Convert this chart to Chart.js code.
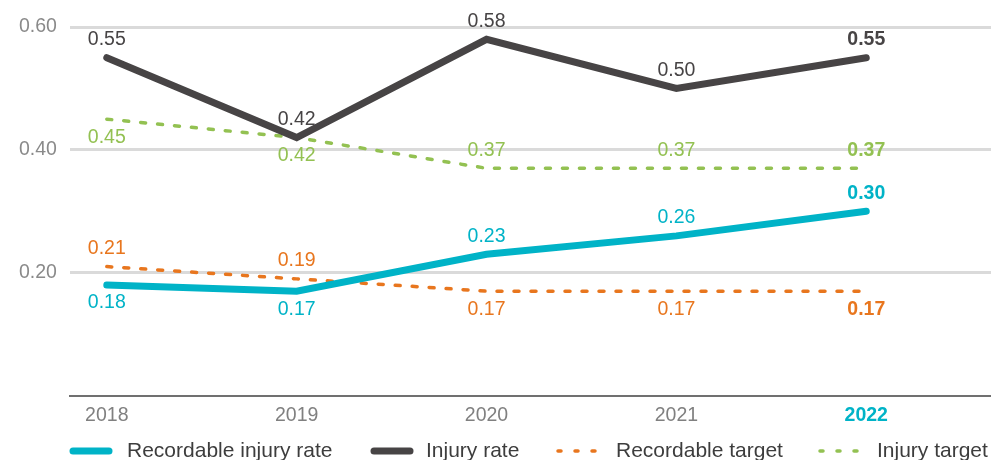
<!DOCTYPE html>
<html lang="en">
<head>
    <meta charset="UTF-8">
    <title>Injury rates</title>
    <script src="https://cdn.jsdelivr.net/npm/chart.js"></script>
    <style>
        body {
            margin: 0;
            padding: 0;
            background-color: #ffffff;
        }

        .chart-box {
            position: relative;
            width: 991px;
            height: 460px;
        }
    </style>
</head>
<body>
    <div class="chart-box">
        <canvas id="injuryChart"></canvas>
    </div>

    <script>
        // Chart data
        const years = ['2018', '2019', '2020', '2021', '2022'];
        const recordableRate = [0.18, 0.17, 0.23, 0.26, 0.30];
        const injuryRate = [0.55, 0.42, 0.58, 0.50, 0.55];
        const recordableTarget = [0.21, 0.19, 0.17, 0.17, 0.17];
        const injuryTarget = [0.45, 0.42, 0.37, 0.37, 0.37];
        const yTicks = [0, 0.2, 0.4, 0.6];

        const CYAN = '#00b3c7';
        const DARK = '#474445';
        const ORANGE = '#e8761e';
        const GREEN = '#93c152';
        const FONT = "'Liberation Sans', Arial, sans-serif";

        function toPoints(values) {
            return values.map((v, i) => ({ x: i, y: v }));
        }

        // draws the value next to each point, last year in bold
        const valueLabels = {
            id: 'valueLabels',
            afterDatasetsDraw(chart) {
                const ctx = chart.ctx;
                chart.data.datasets.forEach((ds, di) => {
                    const meta = chart.getDatasetMeta(di);
                    meta.data.forEach((pt, i) => {
                        const last = i === meta.data.length - 1;
                        const below = ds.labelBelow[i];
                        ctx.save();
                        ctx.font = (last ? 'bold ' : '') + '19.5px ' + FONT;
                        ctx.fillStyle = ds.labelColor;
                        ctx.textAlign = 'center';
                        ctx.textBaseline = 'middle';
                        ctx.fillText(ds.data[i].y.toFixed(2), pt.x, pt.y + (below ? 18 : -18));
                        ctx.restore();
                    });
                });
            }
        };

        // legend along the bottom edge, line sample + label
        const bottomLegend = {
            id: 'bottomLegend',
            afterDraw(chart, args, opts) {
                const ctx = chart.ctx;
                const y = opts.y;
                chart.data.datasets.forEach((ds, i) => {
                    const x = opts.starts[i];
                    ctx.save();
                    ctx.strokeStyle = ds.borderColor;
                    ctx.lineWidth = ds.borderWidth;
                    ctx.lineCap = 'round';
                    ctx.setLineDash(ds.borderDash ? [3, 14] : []);
                    ctx.beginPath();
                    if (ds.borderDash) {
                        ctx.moveTo(x + 2, y);
                        ctx.lineTo(x + 40, y);
                    } else {
                        ctx.moveTo(x + 3, y);
                        ctx.lineTo(x + 39, y);
                    }
                    ctx.stroke();
                    ctx.setLineDash([]);
                    ctx.font = '21px ' + FONT;
                    ctx.fillStyle = '#3d3d3d';
                    ctx.textBaseline = 'middle';
                    ctx.fillText(ds.label, opts.textStarts[i], y);
                    ctx.restore();
                });
            }
        };

        const ctx = document.getElementById('injuryChart').getContext('2d');
        const injuryChart = new Chart(ctx, {
            type: 'line',
            data: {
                datasets: [{
                    label: 'Recordable injury rate',
                    data: toPoints(recordableRate),
                    borderColor: CYAN,
                    borderWidth: 7,
                    borderCapStyle: 'round',
                    labelColor: CYAN,
                    labelBelow: [true, true, false, false, false]
                }, {
                    label: 'Injury rate',
                    data: toPoints(injuryRate),
                    borderColor: DARK,
                    borderWidth: 7,
                    borderCapStyle: 'round',
                    labelColor: DARK,
                    labelBelow: [false, false, false, false, false]
                }, {
                    label: 'Recordable target',
                    data: toPoints(recordableTarget),
                    borderColor: ORANGE,
                    borderWidth: 3.5,
                    borderDash: [5, 12],
                    borderCapStyle: 'round',
                    labelColor: ORANGE,
                    labelBelow: [false, false, true, true, true]
                }, {
                    label: 'Injury target',
                    data: toPoints(injuryTarget),
                    borderColor: GREEN,
                    borderWidth: 3.5,
                    borderDash: [5, 12],
                    borderCapStyle: 'round',
                    labelColor: GREEN,
                    labelBelow: [true, true, false, false, false]
                }]
            },
            options: {
                responsive: true,
                maintainAspectRatio: false,
                animation: false,
                layout: {
                    padding: { top: 27, right: 0, left: 6, bottom: 33 }
                },
                elements: {
                    point: { radius: 0, hoverRadius: 0 },
                    line: { tension: 0 }
                },
                plugins: {
                    tooltip: { enabled: false },
                    legend: { display: false },
                    bottomLegend: {
                        y: 451,
                        starts: [70, 371, 556, 818],
                        textStarts: [127, 426, 616, 877]
                    }
                },
                scales: {
                    x: {
                        type: 'linear',
                        min: -0.194,
                        max: 4.657,
                        afterBuildTicks(scale) {
                            scale.ticks = years.map((y, i) => ({ value: i }));
                        },
                        grid: { display: false },
                        border: { display: true, color: '#707070', width: 2 },
                        ticks: {
                            autoSkip: false,
                            maxRotation: 0,
                            padding: 0,
                            callback: (v) => years[v],
                            color: (c) => c.index === years.length - 1 ? CYAN : '#808080',
                            font: (c) => ({
                                family: FONT,
                                size: 19.5,
                                weight: c.index === years.length - 1 ? 'bold' : 'normal'
                            })
                        }
                    },
                    y: {
                        min: 0,
                        max: 0.6,
                        afterBuildTicks(scale) {
                            scale.ticks = yTicks.map(v => ({ value: v }));
                        },
                        border: { display: false },
                        grid: {
                            color: (c) => c.tick.value === 0 ? 'rgba(0,0,0,0)' : '#dadada',
                            lineWidth: 3,
                            drawTicks: false
                        },
                        ticks: {
                            padding: 13,
                            color: '#8a8a8a',
                            font: { family: FONT, size: 19.5 },
                            callback: (v) => v === 0 ? '' : v.toFixed(2)
                        }
                    }
                }
            },
            plugins: [valueLabels, bottomLegend]
        });
    </script>
</body>
</html>
